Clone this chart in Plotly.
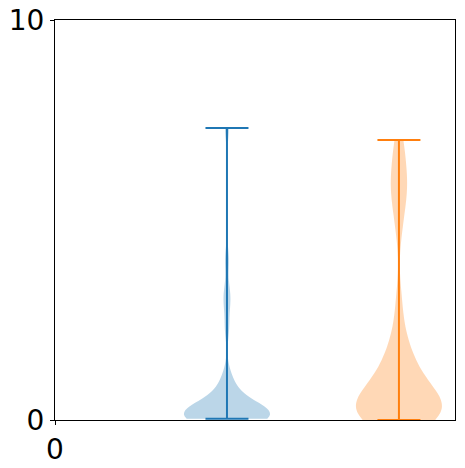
import plotly.graph_objects as go

# sample values
blue_values = [0.03, 0.03, 0.03, 0.04, 0.04, 0.05, 0.05, 0.06, 0.07, 0.08, 0.09, 0.1,
               0.11, 0.12, 0.14, 0.16, 0.18, 0.2, 0.23, 0.26, 0.3, 0.35, 0.4, 0.5,
               0.6, 0.75, 0.9, 1.1, 2.3, 2.9, 3.2, 4.0, 7.3]
orange_values = [0.0, 0.02, 0.04, 0.06, 0.08, 0.1, 0.12, 0.15, 0.18, 0.2, 0.23, 0.26,
                 0.3, 0.34, 0.38, 0.42, 0.48, 0.55, 0.62, 0.7, 0.8, 0.9, 1.0, 1.1,
                 1.2, 1.35, 1.5, 1.7, 1.9, 2.3, 3.0, 4.8, 5.4, 5.7, 5.9, 6.2, 6.6, 7.0]
positions = [1, 2]
colors = ["#1f77b4", "#ff7f0e"]
fills = ["rgba(31,119,180,0.3)", "rgba(255,127,14,0.3)"]
bandwidths = [0.3, 0.5]

violin_width = 0.5
fig = go.Figure()

for vals, pos, col, fill, bw in zip([blue_values, orange_values], positions, colors, fills, bandwidths):
    fig.add_trace(go.Violin(
        y=vals, x0=pos, width=violin_width, spanmode="hard", bandwidth=bw,
        fillcolor=fill, line=dict(color=fill, width=0), points=False,
        hoverinfo="skip", box_visible=False, meanline_visible=False,
    ))
    lo, hi = min(vals), max(vals)
    cap = violin_width * 0.25
    # vertical bar and min/max caps like matplotlib
    fig.add_trace(go.Scatter(x=[pos, pos], y=[lo, hi], mode="lines",
                             line=dict(color=col, width=2), hoverinfo="skip"))
    for v in (lo, hi):
        fig.add_trace(go.Scatter(x=[pos - cap, pos + cap], y=[v, v], mode="lines",
                                 line=dict(color=col, width=2), hoverinfo="skip"))

axis_style = dict(showline=True, mirror=True, linecolor="black", linewidth=1,
                  ticks="outside", ticklen=4, tickcolor="black", showgrid=False,
                  zeroline=False, automargin=False,
                  tickfont=dict(family="DejaVu Sans", size=28, color="black"))

fig.update_xaxes(range=[0, 2.326], tickvals=[0], **axis_style)
fig.update_yaxes(range=[0, 10], tickvals=[0, 10], **axis_style)

fig.update_layout(
    width=465, height=468,
    margin=dict(l=55, r=10, t=20, b=48),
    plot_bgcolor="white", paper_bgcolor="white",
    showlegend=False, violinmode="overlay",
)

# drop the default page margin so the figure sits at the window corner
fig.write_html("out.html", config={"displayModeBar": False},
               post_script="document.body.style.margin='0';document.body.style.overflow='hidden';")
